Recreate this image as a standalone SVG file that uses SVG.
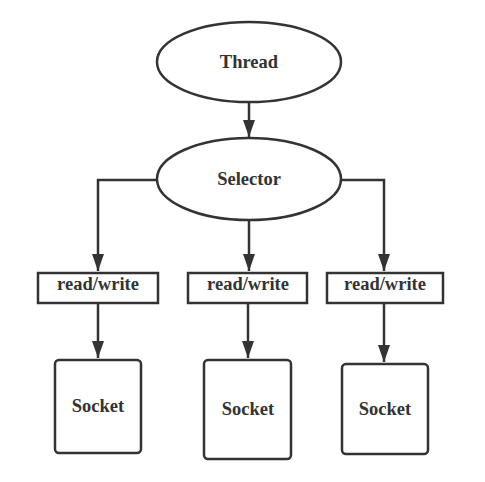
<svg xmlns="http://www.w3.org/2000/svg" width="485" height="482" viewBox="0 0 485 482">
<style>
.s{fill:#fff;stroke:#333;stroke-width:2.5}
.c{fill:none;stroke:#333;stroke-width:2.5}
.t{font-family:'Liberation Serif','Times New Roman',serif;font-weight:700;font-size:18.5px;fill:#333;text-anchor:middle}
</style>
<defs>
<marker id="a" viewBox="0 0 17 12" refX="17" refY="6" markerWidth="6.8" markerHeight="4.8" markerUnits="strokeWidth" orient="auto">
<path d="M0,0L17,6L0,12z" fill="#333"/>
</marker>
</defs>
<g id="connectors">
<path class="c" d="M249,102V137" marker-end="url(#a)"/>
<path class="c" d="M157,180H98V271" marker-end="url(#a)"/>
<path class="c" d="M249,220V271" marker-end="url(#a)"/>
<path class="c" d="M340,180H384V271" marker-end="url(#a)"/>
<path class="c" d="M98,303V358" marker-end="url(#a)"/>
<path class="c" d="M248,303V358" marker-end="url(#a)"/>
<path class="c" d="M384,303V362" marker-end="url(#a)"/>
</g>
<g id="thread"><ellipse class="s" cx="249" cy="62" rx="92" ry="40"/><text class="t" x="249" y="68">Thread</text></g>
<g id="selector"><ellipse class="s" cx="249" cy="179" rx="92" ry="41"/><text class="t" x="249" y="185">Selector</text></g>
<g id="rw1"><rect class="s" x="38" y="273" width="120" height="30"/><text class="t" x="98" y="290">read/write</text></g>
<g id="rw2"><rect class="s" x="188" y="273" width="119" height="30"/><text class="t" x="248" y="290">read/write</text></g>
<g id="rw3"><rect class="s" x="327" y="273" width="116" height="30"/><text class="t" x="385" y="290">read/write</text></g>
<g id="sock1"><rect class="s" x="55" y="360" width="86" height="93" rx="4"/><text class="t" x="98" y="412">Socket</text></g>
<g id="sock2"><rect class="s" x="204" y="360" width="87" height="99" rx="4"/><text class="t" x="248" y="415">Socket</text></g>
<g id="sock3"><rect class="s" x="342" y="364" width="86" height="90" rx="4"/><text class="t" x="385" y="415">Socket</text></g>
</svg>
